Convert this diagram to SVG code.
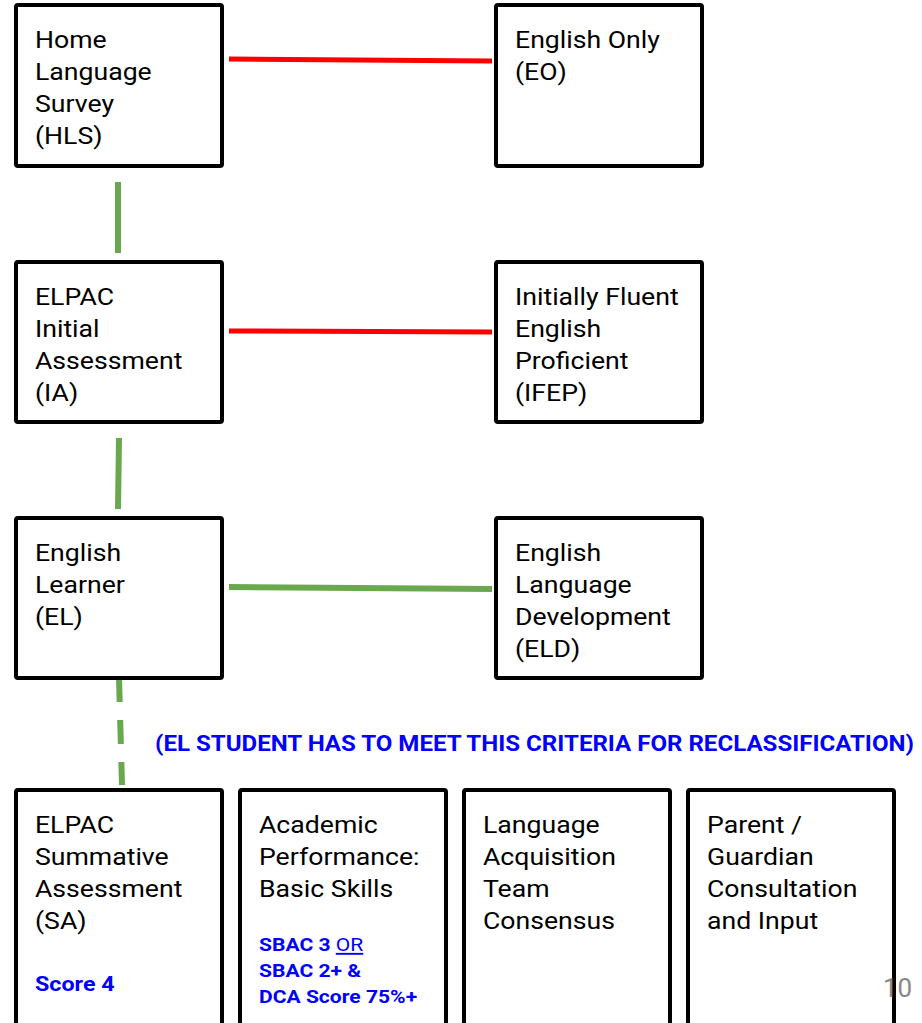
<svg xmlns="http://www.w3.org/2000/svg" width="922" height="1023" viewBox="0 0 922 1023">
<style>
.box{fill:#fff;stroke:#000;stroke-width:4}
.t{font-family:Roboto,"Liberation Sans",sans-serif;font-size:24px;fill:#000}
.b{font-family:Roboto,"Liberation Sans",sans-serif;font-weight:bold;fill:#0000ff}
.red{stroke:#ff0000;stroke-width:5;fill:none}
.green{stroke:#6aa84f;stroke-width:6;fill:none}
</style>
<rect width="922" height="1023" fill="#fff"/>
<g id="connectors">
<line class="red" x1="229" y1="59" x2="492" y2="61"/>
<line class="red" x1="229" y1="331" x2="492" y2="332"/>
<line class="green" x1="229" y1="587" x2="492" y2="589"/>
<line class="green" x1="118" y1="182" x2="118" y2="253"/>
<line class="green" x1="119" y1="438" x2="118" y2="509"/>
<line class="green" x1="119" y1="678" x2="122" y2="785" stroke-dasharray="24 18"/>
</g>
<g id="hls"><rect class="box" x="16" y="5" width="206" height="161" rx="2"/>
<g transform="scale(1.11,1)"><text class="t" x="31.53" y="48">Home</text><text class="t" x="31.53" y="80">Language</text><text class="t" x="31.53" y="112">Survey</text><text class="t" x="31.53" y="144">(HLS)</text></g></g>
<g id="eo"><rect class="box" x="496" y="5" width="206" height="161" rx="2"/>
<g transform="scale(1.11,1)"><text class="t" x="463.96" y="48">English Only</text><text class="t" x="463.96" y="80">(EO)</text></g></g>
<g id="ia"><rect class="box" x="16" y="262" width="206" height="160" rx="2"/>
<g transform="scale(1.11,1)"><text class="t" x="31.53" y="305">ELPAC</text><text class="t" x="31.53" y="337">Initial</text><text class="t" x="31.53" y="369">Assessment</text><text class="t" x="31.53" y="401">(IA)</text></g></g>
<g id="ifep"><rect class="box" x="496" y="262" width="206" height="160" rx="2"/>
<g transform="scale(1.11,1)"><text class="t" x="463.96" y="305">Initially Fluent</text><text class="t" x="463.96" y="337">English</text><text class="t" x="463.96" y="369">Proficient</text><text class="t" x="463.96" y="401">(IFEP)</text></g></g>
<g id="el"><rect class="box" x="16" y="518" width="206" height="160" rx="2"/>
<g transform="scale(1.11,1)"><text class="t" x="31.53" y="561">English</text><text class="t" x="31.53" y="593">Learner</text><text class="t" x="31.53" y="625">(EL)</text></g></g>
<g id="eld"><rect class="box" x="496" y="518" width="206" height="160" rx="2"/>
<g transform="scale(1.11,1)"><text class="t" x="463.96" y="561">English</text><text class="t" x="463.96" y="593">Language</text><text class="t" x="463.96" y="625">Development</text><text class="t" x="463.96" y="657">(ELD)</text></g></g>
<g id="criteria-label" transform="scale(1.11,1)"><text class="b" x="139.64" y="751" font-size="21.7">(EL STUDENT HAS TO MEET THIS CRITERIA FOR RECLASSIFICATION)</text></g>
<g id="sa"><rect class="box" x="16" y="790" width="206" height="240" rx="2"/>
<g transform="scale(1.11,1)"><text class="t" x="31.53" y="833">ELPAC</text><text class="t" x="31.53" y="865">Summative</text><text class="t" x="31.53" y="897">Assessment</text><text class="t" x="31.53" y="929">(SA)</text>
<text class="b" x="31.53" y="991" font-size="21">Score 4</text></g></g>
<g id="academic"><rect class="box" x="240" y="790" width="206" height="240" rx="2"/>
<g transform="scale(1.11,1)"><text class="t" x="233.33" y="833">Academic</text><text class="t" x="233.33" y="865">Performance:</text><text class="t" x="233.33" y="897">Basic Skills</text>
<text class="b" x="233.33" y="951" font-size="19">SBAC 3 <tspan font-weight="normal" text-decoration="underline">OR</tspan></text>
<text class="b" x="233.33" y="977" font-size="19">SBAC 2+ &amp;</text>
<text class="b" x="233.33" y="1003" font-size="19">DCA Score 75%+</text></g></g>
<g id="team"><rect class="box" x="464" y="790" width="206" height="240" rx="2"/>
<g transform="scale(1.11,1)"><text class="t" x="435.14" y="833">Language</text><text class="t" x="435.14" y="865">Acquisition</text><text class="t" x="435.14" y="897">Team</text><text class="t" x="435.14" y="929">Consensus</text></g></g>
<g id="parent"><rect class="box" x="688" y="790" width="206" height="240" rx="2"/>
<g transform="scale(1.11,1)"><text class="t" x="636.94" y="833">Parent /</text><text class="t" x="636.94" y="865">Guardian</text><text class="t" x="636.94" y="897">Consultation</text><text class="t" x="636.94" y="929">and Input</text></g></g>
<text x="883" y="997" font-family="Roboto,'Liberation Sans',sans-serif" font-size="26" fill="#888">10</text>
</svg>
